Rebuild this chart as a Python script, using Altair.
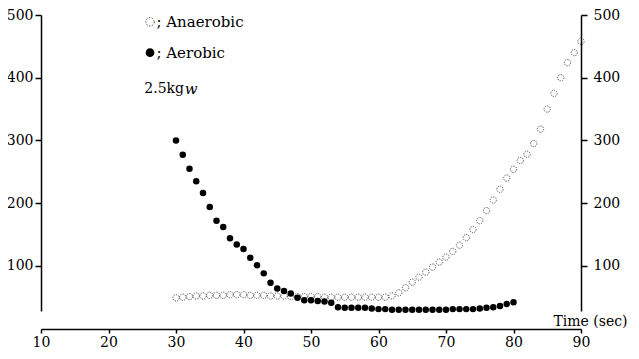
import altair as alt
import pandas as pd

# Aerobic (filled) series, 1 s steps from 30 s to 80 s
aer_time = list(range(30, 81))
aer_vals = [300, 277, 255, 235, 216, 194, 172, 162, 144, 134,
            127, 113, 101, 88, 73, 64, 60, 56, 49, 45,
            45, 44, 43, 41, 34, 33, 33, 33, 33, 32,
            31, 31, 30, 30, 30, 30, 30, 30, 30, 30,
            30, 31, 31, 31, 31, 32, 33, 34, 36, 39, 42]

# Anaerobic (open) series, 1 s steps from 30 s to 90 s
an_time = list(range(30, 91))
an_vals = [49, 50, 51, 52, 52, 53, 53, 53, 54, 54,
           54, 53, 53, 53, 52, 52, 52, 51, 51, 51,
           51, 51, 50, 50, 50, 50, 50, 50, 50, 50,
           50, 50, 52, 57, 65, 74, 82, 90, 98, 106,
           114, 123, 133, 145, 158, 172, 188, 205, 222, 240,
           254, 268, 278, 295, 318, 350, 375, 400, 424, 440, 458]

x_ticks = [10, 20, 30, 40, 50, 60, 70, 80, 90]
y_ticks = [100, 200, 300, 400, 500]

FONT = "DejaVu Serif"

aer = pd.DataFrame({"t": aer_time, "v": aer_vals})
an = pd.DataFrame({"t": an_time, "v": an_vals})

xs = alt.Scale(domain=[10, 90], nice=False)
ys = alt.Scale(domain=[28, 500], nice=False)

x_axis = alt.Axis(values=x_ticks, title="Time  (sec)", titleX=549, titleY=-4,
                  titleAlign="center", titleBaseline="alphabetic", titleFont=FONT,
                  titleFontSize=14, titleFontWeight="normal", offset=18,
                  tickSize=4, labelPadding=2, labelFlush=False)

base_left = alt.Chart(an).mark_point(
    shape="circle", filled=False, color="black", size=40,
    strokeWidth=1, strokeDash=[1.2, 1.2]
).encode(
    x=alt.X("t:Q", scale=xs, axis=x_axis),
    y=alt.Y("v:Q", scale=ys, axis=alt.Axis(values=y_ticks, title=None, orient="left",
                                           tickSize=6, labelPadding=2)),
)

aer_layer = alt.Chart(aer).mark_circle(color="black", size=42, opacity=1).encode(
    x=alt.X("t:Q", scale=xs, axis=None),
    y=alt.Y("v:Q", scale=ys, axis=alt.Axis(values=y_ticks, title=None, orient="right",
                                           tickSize=6, labelPadding=6)),
)

# Legend annotations (in data coordinates)
leg_open = pd.DataFrame({"t": [26.15], "v": [489]})
leg_fill = pd.DataFrame({"t": [26.15], "v": [440]})
leg_text = pd.DataFrame({"t": [27.1, 27.1], "v": [489, 440],
                         "label": ["; Anaerobic", "; Aerobic"]})
kg_text = pd.DataFrame({"t": [25.3], "v": [382], "label": ["2.5kg"]})
w_text = pd.DataFrame({"t": [31.3], "v": [382], "label": ["w"]})

X_NA = alt.X("t:Q", scale=xs, axis=None)
Y_NA = alt.Y("v:Q", scale=ys, axis=None)

lo = alt.Chart(leg_open).mark_point(shape="circle", filled=False, color="black", size=70,
                                    strokeWidth=1, strokeDash=[1.5, 1.5]).encode(
    x=X_NA, y=Y_NA)
lf = alt.Chart(leg_fill).mark_circle(color="black", size=75, opacity=1).encode(
    x=X_NA, y=Y_NA)
lt = alt.Chart(leg_text).mark_text(align="left", baseline="middle", font=FONT,
                                   fontSize=15, color="black").encode(
    x=X_NA, y=Y_NA, text="label:N")
kt = alt.Chart(kg_text).mark_text(align="left", baseline="middle", font=FONT,
                                  fontSize=14, color="black").encode(
    x=X_NA, y=Y_NA, text="label:N")
wt = alt.Chart(w_text).mark_text(align="left", baseline="middle", font=FONT,
                                 fontSize=15, fontStyle="italic", color="black").encode(
    x=X_NA, y=Y_NA, text="label:N")

chart = alt.layer(base_left, aer_layer, lo, lf, lt, kt, wt).resolve_scale(
    x="shared", y="shared"
).resolve_axis(
    x="independent", y="independent"
).properties(
    width=540, height=296,
    autosize=alt.AutoSizeParams(type="none"),
    padding={"left": 33, "top": 7, "right": 50, "bottom": 40},
).configure_view(
    stroke=None
).configure_axis(
    grid=False, domainColor="black", domainWidth=1.5, tickColor="black",
    tickWidth=1.5, labelFont=FONT, labelFontSize=14, labelColor="black",
    titleColor="black"
)

chart.save("out.html", embed_options={"renderer": "svg", "actions": False})
